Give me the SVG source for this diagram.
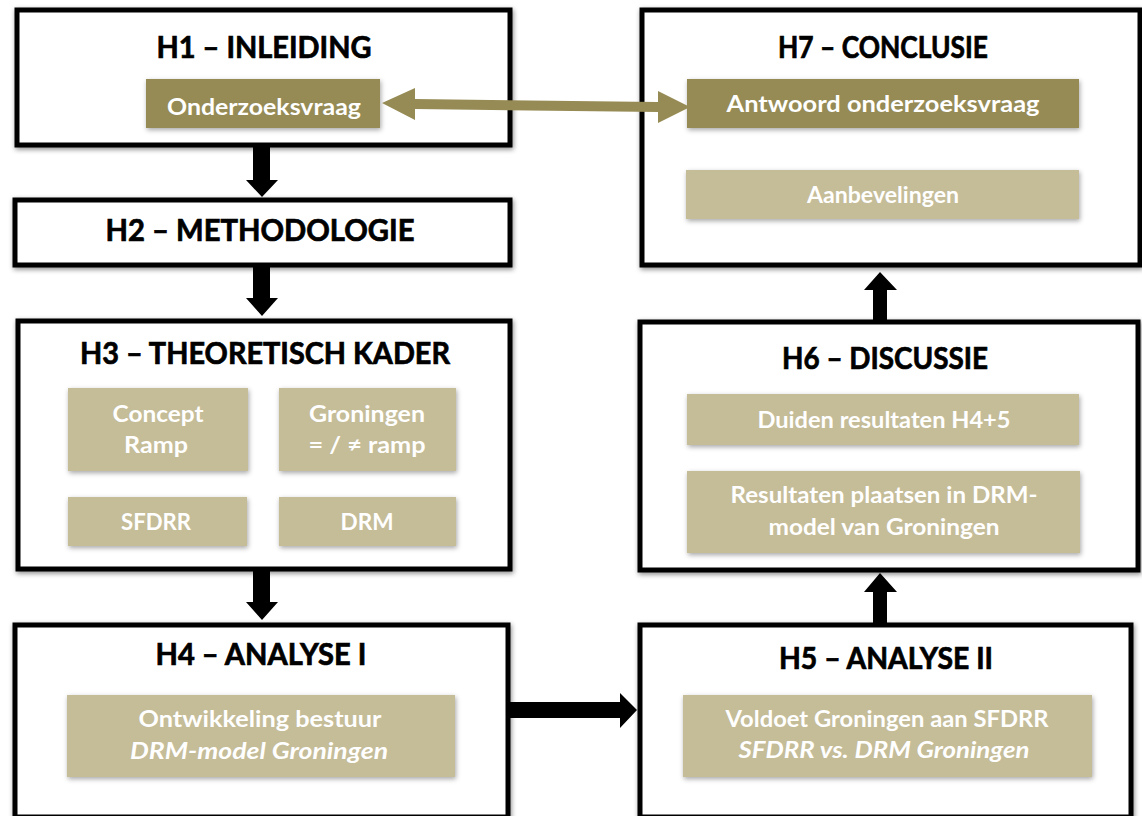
<svg xmlns="http://www.w3.org/2000/svg" width="1142" height="816" viewBox="0 0 1142 816">
  <defs>
    <filter id="shadow" x="-10%" y="-10%" width="120%" height="125%">
      <feDropShadow dx="1" dy="2" stdDeviation="2.5" flood-color="#000" flood-opacity="0.45"/>
    </filter>
    <filter id="softShadow" x="-10%" y="-10%" width="120%" height="130%">
      <feDropShadow dx="1" dy="2" stdDeviation="2.5" flood-color="#000" flood-opacity="0.35"/>
    </filter>
    <style>
      .frame { fill: #ffffff; stroke: #000000; stroke-width: 5; filter: url(#shadow); }
      .dark { fill: #968B54; filter: url(#softShadow); }
      .light { fill: #C5BC98; filter: url(#softShadow); }
      .title { font-family: Lato, "Open Sans", sans-serif; font-weight: 700; font-size: 30px; fill: #000000; stroke: #000000; stroke-width: 0.7; text-anchor: middle; }
      .label { font-family: Lato, "Open Sans", sans-serif; font-weight: 700; font-size: 23px; fill: #ffffff; text-anchor: middle; }
      .it { font-style: italic; }
      .block { fill: #000000; }
      .link { fill: #968B54; }
    </style>
  </defs>

  <!-- chapter frames -->
  <g id="h1">
    <rect class="frame" x="17" y="10" width="493" height="135"/>
    <text class="title" x="264" y="58" textLength="215" lengthAdjust="spacingAndGlyphs">H1 – INLEIDING</text>
    <g id="onderzoeksvraag">
      <rect class="dark" x="146" y="79" width="234" height="49"/>
      <text class="label" x="264" y="115" textLength="194" lengthAdjust="spacingAndGlyphs">Onderzoeksvraag</text>
    </g>
  </g>

  <g id="h2">
    <rect class="frame" x="15" y="200" width="495" height="65"/>
    <text class="title" x="260" y="241" textLength="309" lengthAdjust="spacingAndGlyphs">H2 – METHODOLOGIE</text>
  </g>

  <g id="h3">
    <rect class="frame" x="18" y="321" width="492" height="248"/>
    <text class="title" x="265" y="364" textLength="370" lengthAdjust="spacingAndGlyphs">H3 – THEORETISCH KADER</text>
    <g id="concept-ramp">
      <rect class="light" x="68" y="388" width="180" height="83"/>
      <text class="label" x="158" y="422" textLength="91" lengthAdjust="spacingAndGlyphs">Concept</text>
      <text class="label" x="156" y="453" textLength="64" lengthAdjust="spacingAndGlyphs">Ramp</text>
    </g>
    <g id="groningen-ramp">
      <rect class="light" x="279" y="388" width="177" height="83"/>
      <text class="label" x="367" y="422" textLength="116" lengthAdjust="spacingAndGlyphs">Groningen</text>
      <text class="label" x="367" y="453" textLength="117" lengthAdjust="spacingAndGlyphs">= / ≠ ramp</text>
    </g>
    <g id="sfdrr">
      <rect class="light" x="68" y="497" width="179" height="49"/>
      <text class="label" x="156" y="530" textLength="70" lengthAdjust="spacingAndGlyphs">SFDRR</text>
    </g>
    <g id="drm">
      <rect class="light" x="279" y="497" width="177" height="49"/>
      <text class="label" x="367" y="530" textLength="53" lengthAdjust="spacingAndGlyphs">DRM</text>
    </g>
  </g>

  <g id="h4">
    <rect class="frame" x="15" y="625" width="493" height="192"/>
    <text class="title" x="261" y="665" textLength="211" lengthAdjust="spacingAndGlyphs">H4 – ANALYSE I</text>
    <g id="ontwikkeling">
      <rect class="light" x="67" y="695" width="388" height="82"/>
      <text class="label" x="260" y="727" textLength="243" lengthAdjust="spacingAndGlyphs">Ontwikkeling bestuur</text>
      <text class="label it" x="259" y="759" textLength="258" lengthAdjust="spacingAndGlyphs">DRM-model Groningen</text>
    </g>
  </g>

  <g id="h5">
    <rect class="frame" x="640" y="625" width="491" height="192"/>
    <text class="title" x="886" y="669" textLength="214" lengthAdjust="spacingAndGlyphs">H5 – ANALYSE II</text>
    <g id="voldoet">
      <rect class="light" x="683" y="695" width="409" height="82"/>
      <text class="label" x="887" y="727" textLength="323" lengthAdjust="spacingAndGlyphs">Voldoet Groningen aan SFDRR</text>
      <text class="label it" x="884" y="758" textLength="291" lengthAdjust="spacingAndGlyphs">SFDRR vs. DRM Groningen</text>
    </g>
  </g>

  <g id="h6">
    <rect class="frame" x="640" y="322" width="498" height="248"/>
    <text class="title" x="885" y="369" textLength="206" lengthAdjust="spacingAndGlyphs">H6 – DISCUSSIE</text>
    <g id="duiden">
      <rect class="light" x="687" y="394" width="392" height="51"/>
      <text class="label" x="884" y="428" textLength="253" lengthAdjust="spacingAndGlyphs">Duiden resultaten H4+5</text>
    </g>
    <g id="resultaten">
      <rect class="light" x="687" y="471" width="393" height="82"/>
      <text class="label" x="884" y="503" textLength="307" lengthAdjust="spacingAndGlyphs">Resultaten plaatsen in DRM-</text>
      <text class="label" x="884" y="535" textLength="231" lengthAdjust="spacingAndGlyphs">model van Groningen</text>
    </g>
  </g>

  <g id="h7">
    <rect class="frame" x="642" y="10" width="498" height="255"/>
    <text class="title" x="883" y="58" textLength="210" lengthAdjust="spacingAndGlyphs">H7 – CONCLUSIE</text>
    <g id="antwoord">
      <rect class="dark" x="687" y="79" width="392" height="49"/>
      <text class="label" x="883" y="112" textLength="313" lengthAdjust="spacingAndGlyphs">Antwoord onderzoeksvraag</text>
    </g>
    <g id="aanbevelingen">
      <rect class="light" x="686" y="170" width="393" height="49"/>
      <text class="label" x="883" y="203" textLength="152" lengthAdjust="spacingAndGlyphs">Aanbevelingen</text>
    </g>
  </g>

  <!-- block arrows between chapters -->
  <g id="connectors">
    <polygon class="block" points="253,147 270,147 270,180 278,180 262,197 246,180 253,180"/>
    <polygon class="block" points="253,267 270,267 270,298 278,298 262,316 246,298 253,298"/>
    <polygon class="block" points="253,571 270,571 270,602 278,602 262,620 246,602 253,602"/>
    <polygon class="block" points="510,702 620,702 620,693 637,710 620,728 620,718 510,718"/>
    <polygon class="block" points="873,623 887,623 887,592 897,592 880,573 864,592 873,592"/>
    <polygon class="block" points="873,320 887,320 887,290 897,290 880,272 864,290 873,290"/>
    <!-- two-way link between question and answer -->
    <polygon class="link" points="382,103 415,88 415,99 658,102 658,91 690,107 658,123 658,112 415,109 415,120"/>
  </g>
</svg>
